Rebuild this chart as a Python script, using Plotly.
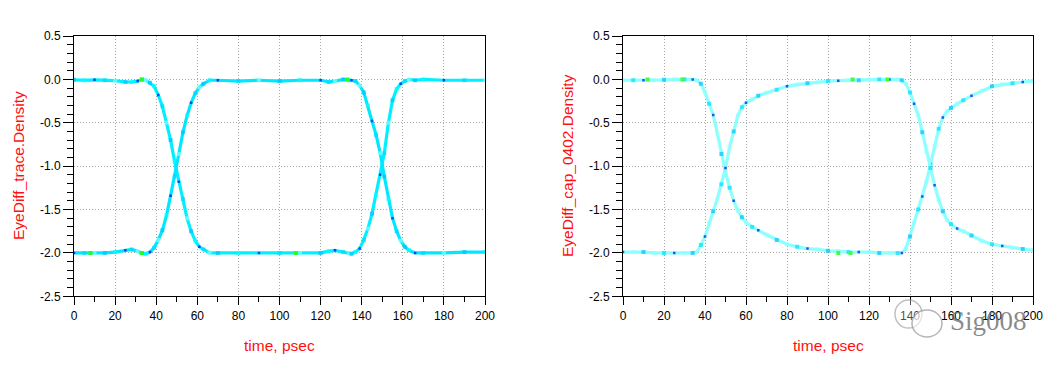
import plotly.graph_objects as go

# ---------------- data ----------------
x_ticks = [0, 20, 40, 60, 80, 100, 120, 140, 160, 180, 200]
x_tick_labels = ["0", "20", "40", "60", "80", "100", "120", "140", "160", "180", "200"]
y_ticks = [0.5, 0.0, -0.5, -1.0, -1.5, -2.0, -2.5]
y_tick_labels = ["0.5", "0.0", "-0.5", "-1.0", "-1.5", "-2.0", "-2.5"]

# left panel: EyeDiff_trace.Density
left_t = [0, 5, 10, 15, 20, 25, 28, 31, 33, 35,
          37, 39, 41, 43, 45, 47, 49, 51, 53, 55, 57, 59, 61, 63, 66,
          70, 80, 90, 100, 110, 120, 124, 127, 131, 134, 135,
          137, 139, 141, 143, 145, 147, 149, 151, 153, 155, 157, 159, 161, 163, 166,
          170, 180, 190, 200]
left_a = [-0.005, -0.01, -0.005, -0.01, -0.015, -0.03, -0.03, -0.02, 0.0, -0.01,
          -0.04, -0.08, -0.18, -0.31, -0.50, -0.70, -0.95, -1.18, -1.38, -1.60, -1.75, -1.86, -1.93, -1.96, -2.0,
          -2.0, -2.0, -2.0, -2.0, -2.0, -2.0, -1.98, -1.97, -1.99, -2.0, -2.01,
          -1.99, -1.95, -1.85, -1.72, -1.55, -1.33, -1.10, -0.85, -0.50, -0.24, -0.11, -0.05, -0.02, 0.0, -0.01,
          0.0, -0.01, -0.01, -0.01]
left_b = [-2.0, -2.0, -2.0, -2.0, -1.99, -1.97, -1.96, -1.98, -2.0, -2.01,
          -1.99, -1.94, -1.85, -1.74, -1.57, -1.34, -1.12, -0.86, -0.61, -0.42, -0.27, -0.16, -0.09, -0.05, -0.01,
          -0.01, -0.02, -0.01, -0.02, -0.01, -0.01, -0.03, -0.02, 0.0, -0.01, -0.01,
          -0.02, -0.07, -0.15, -0.30, -0.48, -0.64, -0.85, -1.12, -1.38, -1.60, -1.75, -1.86, -1.93, -1.97, -2.0,
          -2.0, -2.0, -1.99, -1.99]
left_green_t = [8, 33, 33, 108, 133]
left_green_v = [-2.0, 0.0, -2.0, -2.0, 0.0]

# right panel: EyeDiff_cap_0402.Density
right_t = [0, 5, 10, 15, 20, 25, 30, 34, 36,
           38, 40, 42, 44, 46, 48, 50, 52, 54, 56, 58, 60,
           63, 66, 70, 75, 80, 85, 90, 95, 100, 105, 110, 115, 120, 125, 130, 134, 136,
           138, 140, 142, 144, 146, 148, 150, 152, 154, 156, 158, 160,
           163, 166, 170, 175, 180, 185, 190, 195, 200]
right_a = [-0.01, -0.01, -0.01, -0.01, -0.005, 0.0, 0.0, 0.0, -0.01,
           -0.05, -0.15, -0.28, -0.41, -0.62, -0.86, -1.07, -1.25, -1.40, -1.51, -1.59, -1.65,
           -1.70, -1.74, -1.79, -1.85, -1.90, -1.93, -1.95, -1.96, -1.975, -1.98, -1.99, -1.99, -1.99, -2.0, -2.0, -2.0, -2.0,
           -1.95, -1.81, -1.65, -1.50, -1.35, -1.18, -0.98, -0.77, -0.57, -0.44, -0.37, -0.33,
           -0.28, -0.24, -0.19, -0.13, -0.08, -0.06, -0.046, -0.03, -0.016]
right_b = [-1.99, -1.99, -1.99, -2.0, -2.0, -2.0, -2.0, -2.0, -1.99,
           -1.91, -1.81, -1.65, -1.52, -1.38, -1.21, -1.02, -0.78, -0.60, -0.42, -0.32, -0.27,
           -0.23, -0.19, -0.155, -0.12, -0.08, -0.06, -0.045, -0.035, -0.02, -0.015, -0.01, -0.01, -0.005, 0.0, 0.0, 0.0, -0.01,
           -0.05, -0.15, -0.28, -0.41, -0.61, -0.83, -1.02, -1.22, -1.39, -1.52, -1.62, -1.67,
           -1.72, -1.75, -1.80, -1.86, -1.90, -1.92, -1.94, -1.955, -1.97]
right_green_t = [12, 29, 105, 111, 112, 129]
right_green_v = [0.0, 0.0, -2.0, -2.0, 0.0, 0.0]

x_title = "time, psec"
left_y_title = "EyeDiff_trace.Density"
right_y_title = "EyeDiff_cap_0402.Density"

# ---------------- layout geometry ----------------
W, H = 1062, 370
OFF = 8  # default page margin of the html body


def px(x):
    return (x - OFF) / W


def py(y):
    return (H - (y - OFF)) / H


left_dom = [px(74), px(485)]
right_dom = [px(623), px(1033)]
y_dom = [py(296.3), py(36)]

FONT = "Liberation Sans, Arial, sans-serif"


def eye_trace(t, v, xa, ya, line_color, mark_cols, idx_shift):
    n = len(t)
    cols = [mark_cols[(i + idx_shift) % len(mark_cols)] for i in range(n)]
    sizes = [2.5 if c == "#0000FF" else 4 for c in cols]
    return go.Scatter(
        x=t, y=v, xaxis=xa, yaxis=ya, mode="lines+markers",
        line=dict(color=line_color, width=3.2),
        marker=dict(symbol="square", color=cols, size=sizes, line=dict(width=0)),
        showlegend=False, hoverinfo="skip")


fig = go.Figure()
left_cols = ["#00C0FF", "#00FFFF", "#0000FF", "#00D8FF", "#80FFFF"]
right_cols = ["#90FFFF", "#00E0FF", "#0000FF", "#90FFFF", "#00C0FF"]
fig.add_trace(eye_trace(left_t, left_a, "x", "y", "#00F0FF", left_cols, 0))
fig.add_trace(eye_trace(left_t, left_b, "x", "y", "#00E8FF", left_cols, 2))
fig.add_trace(eye_trace(right_t, right_a, "x2", "y2", "#8CFFFF", right_cols, 0))
fig.add_trace(eye_trace(right_t, right_b, "x2", "y2", "#8CFFFF", right_cols, 2))
fig.add_trace(go.Scatter(x=left_green_t, y=left_green_v, xaxis="x", yaxis="y", mode="markers",
                         marker=dict(symbol="square", color="#20FF20", size=4), showlegend=False,
                         hoverinfo="skip"))
fig.add_trace(go.Scatter(x=right_green_t, y=right_green_v, xaxis="x2", yaxis="y2", mode="markers",
                         marker=dict(symbol="square", color="#40FF40", size=4), showlegend=False,
                         hoverinfo="skip"))


def xaxis(dom, anchor):
    return dict(domain=dom, anchor=anchor, range=[0, 200], automargin=False, showline=True,
                linecolor="black", linewidth=1, mirror=True, ticks="outside", ticklen=8, tickwidth=1,
                tickcolor="black", tickvals=x_ticks, ticktext=x_tick_labels, showgrid=True,
                gridcolor="#A8A8A8", griddash="1px,2px", gridwidth=1, zeroline=False,
                minor=dict(ticks="outside", ticklen=5, dtick=10, tick0=0, tickcolor="black",
                           tickwidth=1, showgrid=False),
                tickfont=dict(family=FONT, size=12, color="black"))


def yaxis(anchor):
    return dict(domain=y_dom, anchor=anchor, range=[-2.5, 0.5], automargin=False, showline=True,
                linecolor="black", linewidth=1, mirror=True, ticks="outside", ticklen=10, tickwidth=1,
                tickcolor="black", tickvals=y_ticks, ticktext=y_tick_labels, showgrid=True,
                gridcolor="#A8A8A8", griddash="1px,2px", gridwidth=1, zeroline=False,
                minor=dict(ticks="outside", ticklen=6, dtick=0.1, tick0=0, tickcolor="black",
                           tickwidth=1, showgrid=False),
                tickfont=dict(family=FONT, size=12, color="black"))


fig.update_layout(
    width=W, height=H, margin=dict(l=0, r=0, t=0, b=0, autoexpand=False),
    paper_bgcolor="white", plot_bgcolor="white",
    xaxis=xaxis(left_dom, "y"), yaxis=yaxis("x"),
    xaxis2=xaxis(right_dom, "y2"), yaxis2=yaxis("x2"),
)

title_font = dict(family=FONT, size=15.5, color="#FF1010")
fig.add_annotation(text=x_title, xref="paper", yref="paper", x=px(279.5), y=py(345),
                   showarrow=False, font=title_font, xanchor="center", yanchor="middle")
fig.add_annotation(text=x_title, xref="paper", yref="paper", x=px(828), y=py(345),
                   showarrow=False, font=title_font, xanchor="center", yanchor="middle")
fig.add_annotation(text=left_y_title, xref="paper", yref="paper", x=px(18), y=py(166),
                   showarrow=False, font=title_font, textangle=-90, xanchor="center", yanchor="middle")
fig.add_annotation(text=right_y_title, xref="paper", yref="paper", x=px(567), y=py(166),
                   showarrow=False, font=title_font, textangle=-90, xanchor="center", yanchor="middle")

# watermark
fig.add_shape(type="circle", xref="paper", yref="paper", x0=px(895), x1=px(922),
              y0=py(328), y1=py(300), line=dict(color="rgba(150,150,150,0.6)", width=1.5),
              fillcolor="rgba(255,255,255,0.3)")
fig.add_shape(type="circle", xref="paper", yref="paper", x0=px(912), x1=px(942),
              y0=py(337), y1=py(310), line=dict(color="rgba(150,150,150,0.7)", width=1.5),
              fillcolor="rgba(255,255,255,0.6)")
fig.add_annotation(text="Sig008", xref="paper", yref="paper", x=px(988), y=py(321),
                   showarrow=False, xanchor="center", yanchor="middle",
                   font=dict(family="Liberation Serif, serif", size=27, color="rgba(100,100,100,0.75)"))

fig.write_html("out.html")
